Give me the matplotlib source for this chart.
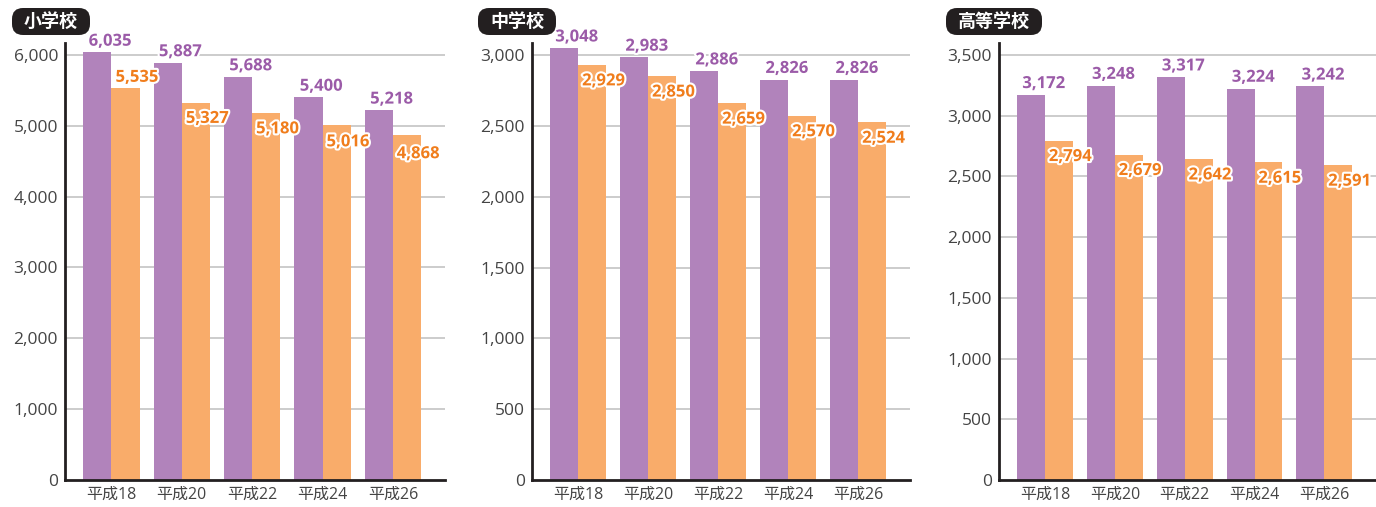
import matplotlib
matplotlib.use("Agg")
import matplotlib.pyplot as plt
import matplotlib.patheffects as pe
from matplotlib.patches import FancyBboxPatch
import numpy as np

FAM = ['Open Sans', 'Noto Sans CJK JP', 'DejaVu Sans']
plt.rcParams['font.family'] = FAM

categories = ["平成18", "平成20", "平成22", "平成24", "平成26"]
titles = ["小学校", "中学校", "高等学校"]
purple_values = [
    [6035, 5887, 5688, 5400, 5218],
    [3048, 2983, 2886, 2826, 2826],
    [3172, 3248, 3317, 3224, 3242],
]
orange_values = [
    [5535, 5327, 5180, 5016, 4868],
    [2929, 2850, 2659, 2570, 2524],
    [2794, 2679, 2642, 2615, 2591],
]
yticks = [
    [0, 1000, 2000, 3000, 4000, 5000, 6000],
    [0, 500, 1000, 1500, 2000, 2500, 3000],
    [0, 500, 1000, 1500, 2000, 2500, 3000, 3500],
]
ymax = [6169, 3085, 3599]

PURPLE = "#b183bb"
ORANGE = "#f9ac6a"
PURPLE_TXT = "#9b5ba8"
ORANGE_TXT = "#f07d1c"

fig = plt.figure(figsize=(13.76, 5.07), dpi=100)
W, H = 1376, 507
panels = [(65, 445), (532, 910), (999, 1376)]
title_boxes = [(12, 90), (478, 556), (946, 1042)]
orange_offsets = [
    [8, -11, -11, -12, -13],
    [-11, -11, -11, -11, -11],
    [-11, -11, -11, -11, -11],
]

x = np.arange(len(categories))
bw = 0.4
for i in range(3):
    l, r = panels[i]
    ax = fig.add_axes([l / W, 1 - 480 / H, (r - l) / W, (480 - 43) / H])
    ax.bar(x - bw / 2, purple_values[i], width=bw, color=PURPLE, zorder=3)
    ax.bar(x + bw / 2, orange_values[i], width=bw, color=ORANGE, zorder=3)
    ax.set_xlim(-0.66, 4.74)
    ax.set_ylim(0, ymax[i])
    ax.set_yticks(yticks[i])
    ax.set_yticklabels([f"{v:,}" for v in yticks[i]], fontsize=12.5, color="#444444")
    ax.set_xticks(x)
    ax.set_xticklabels(categories, fontsize=11.5, color="#444444")
    ax.tick_params(length=0, pad=5)
    for v in yticks[i][1:]:
        ax.axhline(v, color="#c4c4c4", linewidth=1.2, zorder=1)
    for s in ["top", "right"]:
        ax.spines[s].set_visible(False)
    for s in ["left", "bottom"]:
        ax.spines[s].set_linewidth(2)
        ax.spines[s].set_color("#231f20")
        ax.spines[s].set_zorder(5)
    for k in range(len(categories)):
        ax.annotate(f"{purple_values[i][k]:,}", (x[k] - 0.02, purple_values[i][k]),
                    xytext=(0, 2), textcoords="offset points", ha="center", va="bottom",
                    fontsize=12, fontweight="bold", color=PURPLE_TXT, zorder=6,
                    path_effects=[pe.withStroke(linewidth=3, foreground="white")])
        off = orange_offsets[i][k]
        ax.annotate(f"{orange_values[i][k]:,}", (x[k] + 0.36, orange_values[i][k]),
                    xytext=(0, off), textcoords="offset points", ha="center", va="center",
                    fontsize=12, fontweight="bold", color=ORANGE_TXT, zorder=6,
                    path_effects=[pe.withStroke(linewidth=3, foreground="white")])
    tl, tr = title_boxes[i]
    box = FancyBboxPatch((tl / W, 1 - 35 / H), (tr - tl) / W, 27 / H,
                         boxstyle="round,pad=0,rounding_size=0.008",
                         transform=fig.transFigure, facecolor="#231f20",
                         edgecolor="none", mutation_aspect=W / H)
    fig.add_artist(box)
    fig.text((tl + tr) / 2 / W, 1 - 21.5 / H, titles[i], ha="center", va="center",
             fontsize=13, fontweight="bold", color="white",
             family=['Noto Sans CJK JP', 'DejaVu Sans'])

fig.savefig("out.png", dpi=100)
